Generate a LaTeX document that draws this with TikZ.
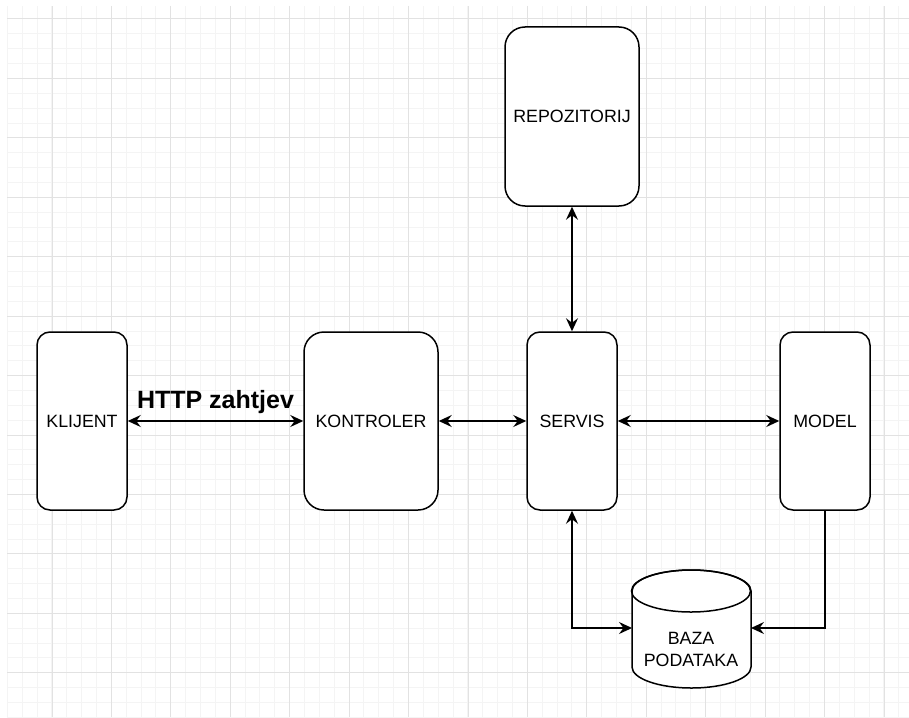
\documentclass[tikz,border=0pt]{standalone}
\usepackage{fontspec}
\setmainfont{Liberation Sans}
\usetikzlibrary{arrows.meta,positioning}
\definecolor{gridmala}{HTML}{F4F4F4}
\definecolor{gridvelika}{HTML}{E2E2E2}

\begin{document}
\begin{tikzpicture}[x=1pt,y=-1pt,>={Stealth[length=13pt,width=12pt,inset=4.5pt]},line width=1.5pt,
  blok/.style={rectangle,draw,rounded corners=13pt,align=center,fill=white,minimum width=90pt,minimum height=178pt,inner sep=0pt,font=\fontsize{17.8}{21.4}\selectfont},
  siroki/.style={blok,rounded corners=20pt,minimum width=134pt}]
\useasboundingbox (0,0) rectangle (909,717);

\foreach \k in {0,...,60} \draw[gridmala,line width=1pt] ({7.4+14.857*\k},6) -- ({7.4+14.857*\k},717);
\foreach \j in {0,...,47} \draw[gridmala,line width=1pt] (7,{19+14.857*\j}) -- (909,{19+14.857*\j});
\foreach \k in {0,...,14} \draw[gridvelika,line width=1pt] ({52+59.43*\k},6) -- ({52+59.43*\k},717);
\foreach \j in {0,...,11} \draw[gridvelika,line width=1pt] (7,{19+59.43*\j}) -- (909,{19+59.43*\j});

\node (klijent) [blok] at (82,421) {KLIJENT};
\node (kontroler) [siroki] at (371,421) {KONTROLER};
\node (servis) [blok] at (572,421) {SERVIS};
\node (model) [blok] at (825,421) {MODEL};
\node (repozitorij) [siroki,minimum height=179pt] at (572,116.5) {REPOZITORIJ};

\draw[fill=white] (632,591) -- (632,667) arc[start angle=180,end angle=360,x radius=59.5pt,y radius=21pt] -- (751,591) arc[start angle=0,end angle=180,x radius=59.5pt,y radius=21pt] -- cycle;
\draw (691,591) ellipse [x radius=59.5pt,y radius=21pt];
\node (baza) [align=center,font=\fontsize{17.8}{22}\selectfont] at (691,649) {BAZA\\PODATAKA};
\coordinate (bazaL) at (632,628);
\coordinate (bazaD) at (751,628);

\draw[<->] (klijent) -- node[anchor=base,yshift=13pt,font=\bfseries\fontsize{25}{29}\selectfont] (zahtjev) {HTTP zahtjev} (kontroler);
\draw[<->] (kontroler) -- (servis);
\draw[<->] (servis) -- (model);
\draw[<->] (repozitorij) -- (servis);
\draw[<->] (servis) |- (bazaL);
\draw[->] (model) |- (bazaD);
\end{tikzpicture}
\end{document}
